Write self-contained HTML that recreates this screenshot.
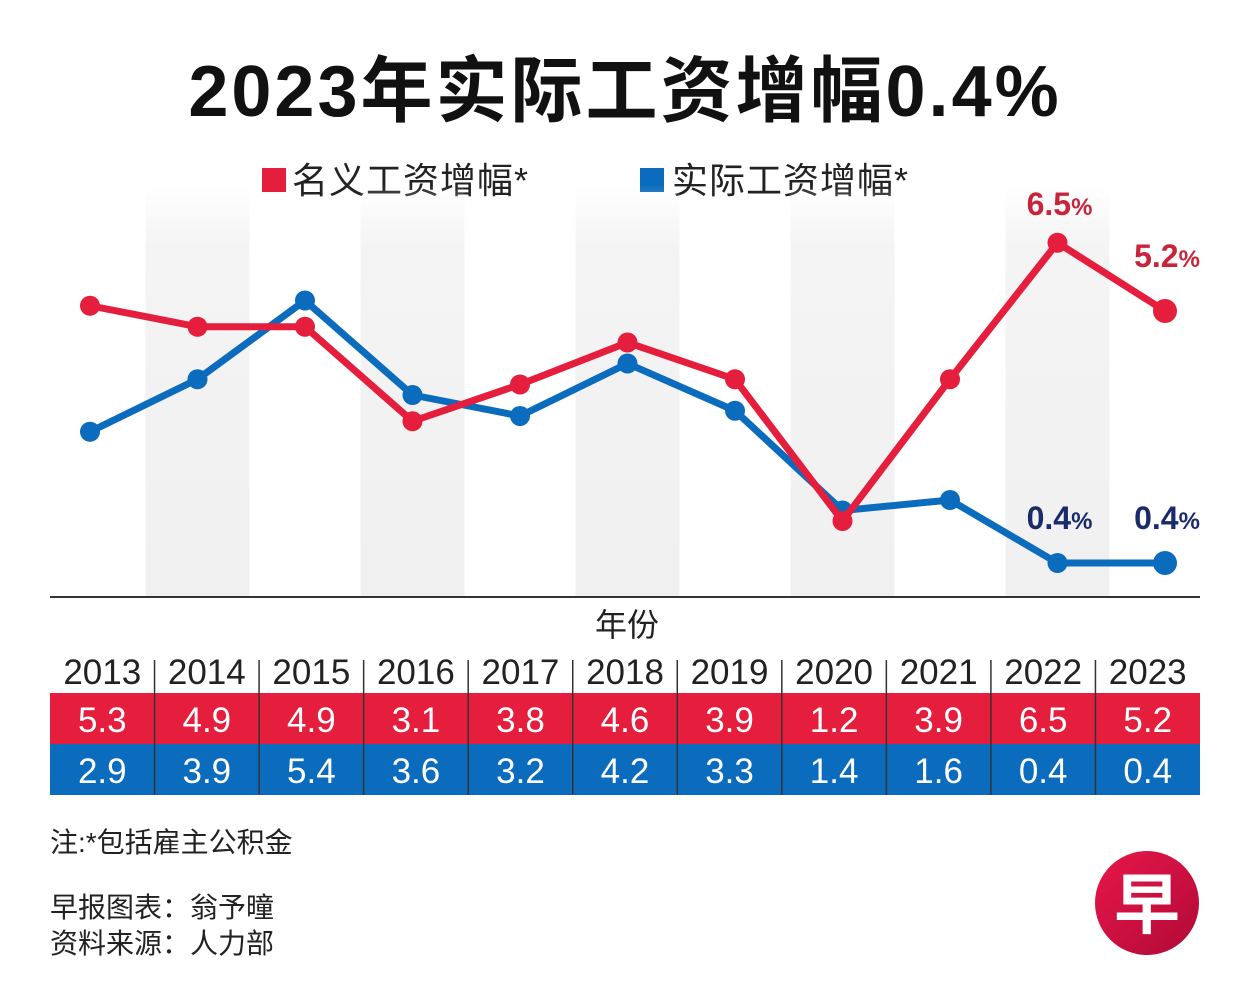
<!DOCTYPE html>
<html><head><meta charset="utf-8">
<style>
body{margin:0;background:#fff;width:1251px;height:1006px;overflow:hidden;font-family:"Liberation Sans","Noto Sans CJK SC",sans-serif}
svg{display:block}
</style></head>
<body>
<svg id="chart" width="1251" height="1006" viewBox="0 0 1251 1006">
<defs>
<linearGradient id="band" x1="0" y1="0" x2="0" y2="1">
<stop offset="0" stop-color="#f4f4f4" stop-opacity="0"/>
<stop offset="0.15" stop-color="#f4f4f4" stop-opacity="1"/>
<stop offset="1" stop-color="#f0f0f0"/>
</linearGradient>
<linearGradient id="logo" x1="0" y1="0" x2="1" y2="1">
<stop offset="0" stop-color="#e8174a"/><stop offset="1" stop-color="#b00a36"/>
</linearGradient>
</defs>
<text x="625" y="116" text-anchor="middle" font-size="72" letter-spacing="3" font-weight="bold" fill="#111">2023年实际工资增幅0.4%</text>
<g>
<rect x="262" y="168" width="24" height="24" fill="#e41e3c"/>
<text x="292" y="193" font-size="36" letter-spacing="1" fill="#222">名义工资增幅*</text>
<rect x="640" y="168" width="24" height="24" fill="#0b6cbd"/>
<text x="672" y="193" font-size="36" letter-spacing="1" fill="#222">实际工资增幅*</text>
</g>
<g id="bands"></g>
<line x1="50" y1="597" x2="1200" y2="597" stroke="#333" stroke-width="2"/>
<text x="627" y="636" text-anchor="middle" font-size="32" fill="#222">年份</text>
<g id="series"></g>
<g id="table"></g>
<text x="50" y="852" font-size="28" fill="#222">注:*包括雇主公积金</text>
<text x="50" y="917" font-size="28" fill="#222">早报图表：翁予曈</text>
<text x="50" y="953" font-size="28" fill="#222">资料来源：人力部</text>
<g>
<circle cx="1147" cy="903" r="52" fill="url(#logo)"/>
<text x="1147" y="928" text-anchor="middle" font-size="66" font-weight="bold" fill="#fff">早</text>
</g>
</svg>
<script>
const years=["2013","2014","2015","2016","2017","2018","2019","2020","2021","2022","2023"];
const nominal=[5.3,4.9,4.9,3.1,3.8,4.6,3.9,1.2,3.9,6.5,5.2];
const real=[2.9,3.9,5.4,3.6,3.2,4.2,3.3,1.4,1.6,0.4,0.4];
const NS="http://www.w3.org/2000/svg";
const xs=i=>90+i*107.5;
const ys=v=>584-v*52.5;
function mk(tag,attrs,parent){const e=document.createElementNS(NS,tag);for(const k in attrs)e.setAttribute(k,attrs[k]);parent.appendChild(e);return e;}
const bands=document.getElementById('bands');
years.forEach((y,i)=>{if(i%2===1){
const r=mk('rect',{x:xs(i)-52,y:185,width:104,height:412,fill:'url(#band)'},bands);


}});
const series=document.getElementById('series');
function drawSeries(vals,color,name){
const g=mk('g',{},series);


const p=mk('polyline',{points:vals.map((v,i)=>xs(i)+','+ys(v)).join(' '),fill:'none',stroke:color,'stroke-width':7,'stroke-linejoin':'round'},g);


vals.forEach((v,i)=>{
const c=mk('circle',{cx:xs(i),cy:ys(v),r:i===vals.length-1?12:10,fill:color},g);


});
}
drawSeries(real,'#0b6cbd','real');
drawSeries(nominal,'#e41e3c','nominal');
function lbl(i,v,dy,color,name){
const t=mk('text',{x:xs(i)+2,y:ys(v)+dy,'text-anchor':'middle','font-size':32,'font-weight':'bold',fill:color},series);
t.innerHTML=v.toFixed(1)+'<tspan font-size="24">%</tspan>';


}
lbl(9,nominal[9],-28,'#c8243a','label-nominal-2022');
lbl(10,nominal[10],-44,'#c8243a','label-nominal-2023');
lbl(9,real[9],-34,'#1b2a6b','label-real-2022');
lbl(10,real[10],-34,'#1b2a6b','label-real-2023');
const tb=document.getElementById('table');
const cw=1150/11;
const rr=mk('rect',{x:50,y:693,width:1150,height:51,fill:'#e41e3c'},tb);


const br=mk('rect',{x:50,y:744,width:1150,height:51,fill:'#0b6cbd'},tb);


years.forEach((y,i)=>{
const cx=50+cw*(i+0.5);
if(i>0){const l=mk('line',{x1:50+cw*i,y1:660,x2:50+cw*i,y2:795,stroke:'#333','stroke-width':1.5},tb);

}
const t1=mk('text',{x:cx,y:684,'text-anchor':'middle','font-size':35,fill:'#222'},tb);t1.textContent=y;


const t2=mk('text',{x:cx,y:732,'text-anchor':'middle','font-size':35,fill:'#fff'},tb);t2.textContent=nominal[i].toFixed(1);


const t3=mk('text',{x:cx,y:783,'text-anchor':'middle','font-size':35,fill:'#fff'},tb);t3.textContent=real[i].toFixed(1);


});
</script>
</body></html>
